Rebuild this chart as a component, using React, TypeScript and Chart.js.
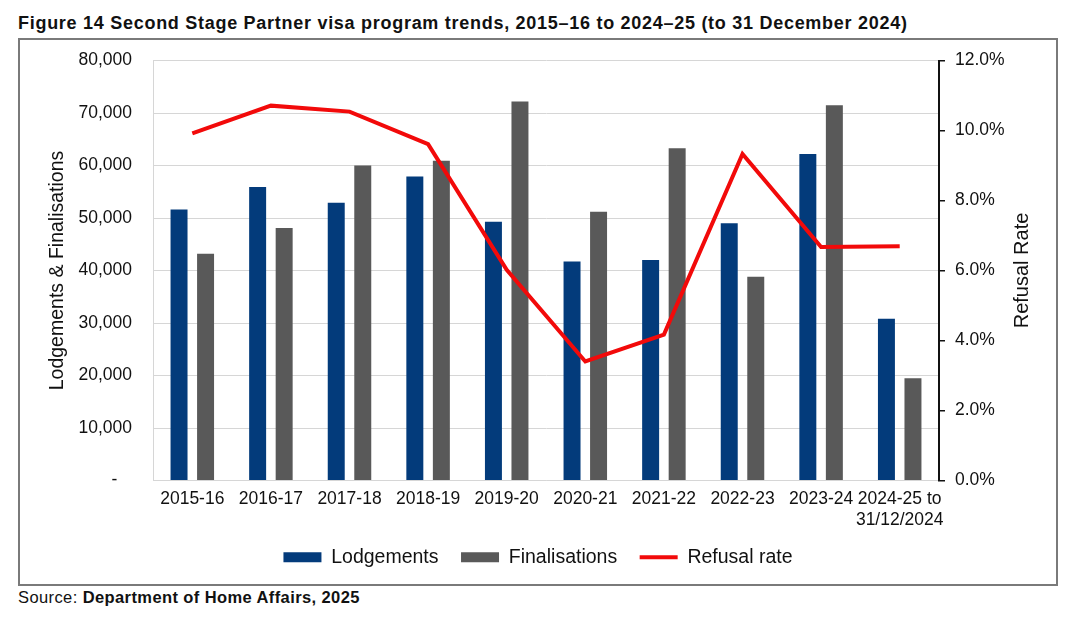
import React, { useEffect, useRef } from 'react';
import { Chart, registerables } from 'chart.js';

Chart.register(...registerables);

const categories: (string | string[])[] = [
  '2015-16', '2016-17', '2017-18', '2018-19', '2019-20',
  '2020-21', '2021-22', '2022-23', '2023-24', ['2024-25 to', '31/12/2024'],
];
const lodgements = [51600, 55900, 52900, 57900, 49300, 41700, 42000, 49000, 62200, 30800];
const finalisations = [43200, 48100, 60000, 60900, 72200, 51200, 63300, 38800, 71500, 19500];
const refusalRate = [9.92, 10.71, 10.54, 9.61, 6.02, 3.40, 4.17, 9.33, 6.67, 6.69];

const FONT = "'Liberation Sans', Arial, sans-serif";
const BLUE = '#033b7b';
const GREY = '#595959';
const RED = '#f20a0a';
const GRID = '#d6d6d6';

const rightTitlePlugin = {
  id: 'rightTitle',
  afterDraw(chart: any) {
    const { ctx, chartArea } = chart;
    const s = chart.scales.y1;
    ctx.save();
    ctx.translate(s.right - 34, (chartArea.top + chartArea.bottom) / 2);
    ctx.rotate(-Math.PI / 2);
    ctx.font = `20px ${FONT}`;
    ctx.fillStyle = '#111';
    ctx.textAlign = 'center';
    ctx.textBaseline = 'middle';
    ctx.fillText('Refusal Rate', 0, 0);
    ctx.restore();
  },
};

export default function App() {
  const ref = useRef<HTMLCanvasElement>(null);

  useEffect(() => {
    if (!ref.current) return;
    const chart = new Chart(ref.current, {
      type: 'bar',
      data: {
        labels: categories as any,
        datasets: [
          {
            label: 'Lodgements',
            data: lodgements,
            backgroundColor: BLUE,
            yAxisID: 'y',
            categoryPercentage: 0.675,
            barPercentage: 0.64,
            order: 1,
          },
          {
            label: 'Finalisations',
            data: finalisations,
            backgroundColor: GREY,
            yAxisID: 'y',
            categoryPercentage: 0.675,
            barPercentage: 0.64,
            order: 1,
          },
          {
            type: 'line',
            label: 'Refusal rate',
            data: refusalRate,
            borderColor: RED,
            backgroundColor: RED,
            borderWidth: 4,
            pointRadius: 0,
            tension: 0,
            yAxisID: 'y1',
            order: 0,
          } as any,
        ],
      },
      options: {
        responsive: false,
        animation: false,
        devicePixelRatio: 1,
        layout: { padding: { top: 20.5, bottom: 7, left: 0, right: 0 } },
        plugins: {
          tooltip: { enabled: false },
          legend: {
            position: 'bottom',
            labels: {
              usePointStyle: true,
              pointStyleWidth: 38,
              boxHeight: 10,
              padding: 22.5,
              color: '#111',
              font: { family: FONT, size: 19.5 },
              generateLabels: (c: any) => {
                const items = Chart.defaults.plugins.legend.labels.generateLabels(c);
                return items
                  .map((it: any) => {
                    const isLine = it.datasetIndex === 2;
                    return {
                      ...it,
                      pointStyle: isLine ? 'line' : 'rect',
                      lineWidth: isLine ? 4 : 0,
                      strokeStyle: isLine ? RED : it.fillStyle,
                      fillStyle: isLine ? RED : it.fillStyle,
                    };
                  })
                  .sort((a: any, b: any) => a.datasetIndex - b.datasetIndex);
              },
            },
          },
        },
        scales: {
          x: {
            grid: { display: false },
            border: { display: true, color: GRID },
            ticks: {
              color: '#111',
              font: { family: FONT, size: 17.5 },
              padding: 0,
              maxRotation: 0,
              autoSkip: false,
            },
            afterFit: (s: any) => { s.height = 44.5; },
          },
          y: {
            position: 'left',
            min: 0,
            max: 80000,
            grid: { color: GRID, drawTicks: false },
            border: { display: true, color: GRID },
            ticks: {
              stepSize: 10000,
              color: '#111',
              font: { family: FONT, size: 17.5 },
              padding: 21,
              callback: (v: any) => (Number(v) === 0 ? '-   ' : Number(v).toLocaleString('en-US')),
            },
            title: {
              display: true,
              text: 'Lodgements & Finalisations',
              color: '#111',
              font: { family: FONT, size: 19.5 },
              padding: { top: 26, bottom: 0 },
            },
            afterFit: (s: any) => { s.width = 133; s.paddingTop = 10; s.paddingBottom = 10; },
          },
          y1: {
            position: 'right',
            min: 0,
            max: 12,
            grid: { drawOnChartArea: false, drawTicks: true, tickLength: 6, color: '#111', lineWidth: 1.5 },
            border: { display: true, color: '#111', width: 2 },
            ticks: {
              stepSize: 2,
              color: '#111',
              font: { family: FONT, size: 17.5 },
              padding: 10,
              callback: (v: any) => Number(v).toFixed(1) + '%',
            },
            afterFit: (s: any) => { s.width = 117; s.paddingTop = 10; s.paddingBottom = 10; },
          },
        },
      },
      plugins: [rightTitlePlugin],
    });
    return () => chart.destroy();
  }, []);

  return (
    <div style={{ position: 'absolute', left: 0, top: 0, width: 1080, height: 623, background: '#fff', fontFamily: FONT }}>
      <div
        style={{
          position: 'absolute', left: 18, top: 14, whiteSpace: 'nowrap',
          fontWeight: 'bold', fontSize: 18, lineHeight: '18px', letterSpacing: '0.72px', color: '#111',
        }}
      >
        Figure 14 Second Stage Partner visa program trends, 2015–16 to 2024–25 (to 31 December 2024)
      </div>
      <div
        style={{
          position: 'absolute', left: 18, top: 38, width: 1036, height: 544,
          border: '2px solid #7a7a7a',
        }}
      >
        <canvas ref={ref} width={1036} height={544} style={{ display: 'block', width: 1036, height: 544 }} />
      </div>
      <div
        style={{
          position: 'absolute', left: 18, top: 589, whiteSpace: 'nowrap',
          fontSize: 16.5, lineHeight: '16.5px', letterSpacing: '0.4px', color: '#111',
        }}
      >
        Source: <b>Department of Home Affairs, 2025</b>
      </div>
    </div>
  );
}
